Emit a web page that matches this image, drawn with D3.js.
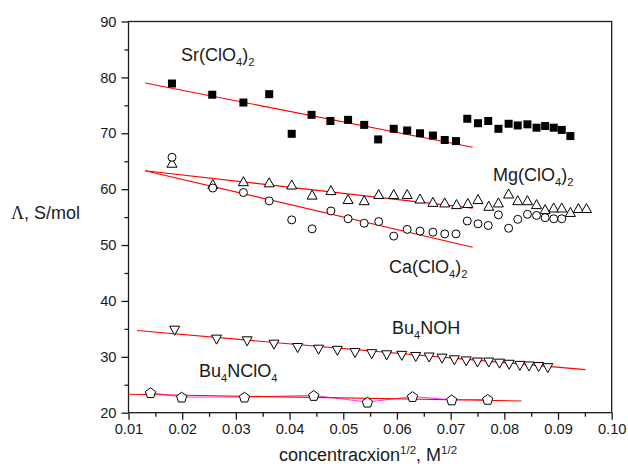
<!DOCTYPE html>
<html>
<head>
<meta charset="utf-8">
<script src="https://cdn.jsdelivr.net/npm/d3@7"></script>
<style>
  html, body { margin: 0; padding: 0; background: #fff; }
  svg { display: block; font-family: "Liberation Sans", Arial, sans-serif; }
</style>
</head>
<body>
<svg id="chart" width="628" height="475"></svg>
<script>
// Molar conductivity vs square root of concentration for five perchlorate/hydroxide salts

// Sr(ClO4)2 — filled squares
const srX = [0.0181, 0.0256, 0.0314, 0.0362, 0.0404, 0.0441, 0.0476, 0.0509, 0.0539, 0.0565,
             0.0594, 0.0619, 0.0643, 0.0667, 0.0689, 0.0710, 0.0731, 0.0751, 0.0770, 0.0789,
             0.0808, 0.0825, 0.0843, 0.0860, 0.0876, 0.0892, 0.0907, 0.0923];
const srY = [78.9, 76.9, 75.5, 77.0, 69.9, 73.3, 72.2, 72.4, 71.5, 68.9,
             70.8, 70.5, 70.0, 69.6, 68.8, 68.6, 72.6, 71.8, 72.2, 70.8,
             71.7, 71.4, 71.6, 71.0, 71.3, 71.0, 70.6, 69.5];

// Mg(ClO4)2 — open triangles
const mgX = [0.0181, 0.0257, 0.0314, 0.0362, 0.0404, 0.0442, 0.0477, 0.0509, 0.0539, 0.0566,
             0.0594, 0.0619, 0.0643, 0.0667, 0.0689, 0.0711, 0.0732, 0.0751, 0.0771, 0.0789,
             0.0808, 0.0825, 0.0843, 0.0860, 0.0876, 0.0892, 0.0907, 0.0923, 0.0938, 0.0953];
const mgY = [64.6, 60.8, 61.3, 61.1, 60.7, 58.9, 59.7, 58.1, 57.9, 59.0,
             59.0, 59.0, 58.2, 57.6, 57.5, 57.2, 57.4, 58.1, 56.9, 57.5,
             59.1, 57.9, 57.9, 57.2, 56.3, 56.6, 56.6, 55.8, 56.5, 56.5];

// Ca(ClO4)2 — open circles
const caX = [0.0181, 0.0257, 0.0314, 0.0362, 0.0404, 0.0442, 0.0477, 0.0509, 0.0539, 0.0566,
             0.0594, 0.0619, 0.0643, 0.0667, 0.0689, 0.0710, 0.0731, 0.0751, 0.0770, 0.0789,
             0.0808, 0.0825, 0.0843, 0.0860, 0.0876, 0.0892, 0.0907];
const caY = [65.7, 60.2, 59.4, 57.9, 54.5, 52.9, 56.1, 54.7, 53.9, 54.2,
             51.6, 52.8, 52.5, 52.3, 52.0, 52.0, 54.3, 53.8, 53.5, 55.4,
             53.0, 54.6, 55.5, 55.3, 54.9, 54.7, 54.7];

// Bu4NOH — open down-triangles
const ohX = [0.0186, 0.0264, 0.0321, 0.0371, 0.0415, 0.0454, 0.0489, 0.0522, 0.0553, 0.0581,
             0.0609, 0.0635, 0.0660, 0.0684, 0.0707, 0.0729, 0.0750, 0.0771, 0.0791, 0.0809,
             0.0829, 0.0846, 0.0864, 0.0881];
const ohY = [34.8, 33.2, 32.9, 32.3, 31.7, 31.4, 31.2, 30.8, 30.6, 30.4,
             30.3, 30.1, 30.0, 29.8, 29.5, 29.3, 29.1, 29.1, 28.9, 28.7,
             28.5, 28.4, 28.3, 28.1];

// Bu4NClO4 — open pentagons
const clX = [0.0141, 0.0199, 0.0316, 0.0445, 0.0545, 0.0629, 0.0702, 0.0769];
const clY = [23.6, 22.8, 22.8, 23.1, 21.9, 22.9, 22.3, 22.4];

// Linear fits: [x0, y0, x1, y1]
const srFit = [0.0131, 79.0, 0.0741, 67.5];
const mgFit = [0.0131, 63.3, 0.0741, 56.6];
const caFit = [0.0131, 63.3, 0.0741, 49.6];
const ohFit = [0.0116, 34.7, 0.0951, 27.7];
const clFit = [0.0100, 23.3, 0.0832, 22.1];

// Axis ticks
const xTicks = [0.01, 0.02, 0.03, 0.04, 0.05, 0.06, 0.07, 0.08, 0.09, 0.10];
const yTicks = [20, 30, 40, 50, 60, 70, 80, 90];
const xMinor = [0.015, 0.025, 0.035, 0.045, 0.055, 0.065, 0.075, 0.085, 0.095];
const yMinor = [25, 35, 45, 55, 65, 75, 85];

const svg = d3.select("#chart");
const L = 128.5, R = 611.7, T = 21.5, B = 412.7;

const x = d3.scaleLinear().domain([0.01, 0.10]).range([L, R]);
const y = d3.scaleLinear().domain([20, 90]).range([B, T]);

const ink = "#1a1a1a";

// frame
svg.append("rect")
  .attr("x", L).attr("y", T).attr("width", R - L).attr("height", B - T)
  .attr("fill", "none").attr("stroke", ink).attr("stroke-width", 1.3);

// x axis
const xAxis = svg.append("g").attr("transform", `translate(0,${B})`)
  .call(d3.axisBottom(x).tickValues(xTicks).tickSize(7).tickPadding(4)
        .tickFormat(d => d.toFixed(2)));
const xAxisMinor = svg.append("g").attr("transform", `translate(0,${B})`)
  .call(d3.axisBottom(x).tickValues(xMinor).tickSize(4).tickFormat(""));

// y axis
const yAxis = svg.append("g").attr("transform", `translate(${L},0)`)
  .call(d3.axisLeft(y).tickValues(yTicks).tickSize(7).tickPadding(5));
const yAxisMinor = svg.append("g").attr("transform", `translate(${L},0)`)
  .call(d3.axisLeft(y).tickValues(yMinor).tickSize(4).tickFormat(""));

[xAxis, xAxisMinor, yAxis, yAxisMinor].forEach(g => {
  g.select(".domain").remove();
  g.selectAll(".tick line").attr("stroke", ink).attr("stroke-width", 1.3);
  g.selectAll(".tick text").attr("fill", ink)
    .style("font-family", '"Liberation Sans", Arial, sans-serif')
    .style("font-size", "14.7px");
});

// connecting line through Bu4NClO4 points
svg.append("path")
  .datum(clX.map((v, i) => [v, clY[i]]))
  .attr("d", d3.line().x(d => x(d[0])).y(d => y(d[1])))
  .attr("fill", "none").attr("stroke", "#ff33ff").attr("stroke-width", 1);

// fit lines
[srFit, mgFit, caFit, ohFit, clFit].forEach(f => {
  svg.append("line")
    .attr("x1", x(f[0])).attr("y1", y(f[1]))
    .attr("x2", x(f[2])).attr("y2", y(f[3]))
    .attr("stroke", "#ff0000").attr("stroke-width", 1.1);
});

function pts(xs, ys) { return xs.map((v, i) => [v, ys[i]]); }

// markers
svg.append("g").selectAll("rect").data(pts(srX, srY)).join("rect")
  .attr("x", d => x(d[0]) - 4).attr("y", d => y(d[1]) - 4)
  .attr("width", 8).attr("height", 8).attr("fill", "#000");

const triUp = "M0,-5.2L5,3.8L-5,3.8Z";
const triDown = "M0,5.2L5,-3.8L-5,-3.8Z";

svg.append("g").selectAll("path").data(pts(mgX, mgY)).join("path")
  .attr("transform", d => `translate(${x(d[0])},${y(d[1])})`)
  .attr("d", triUp).attr("fill", "#fff").attr("stroke", "#000").attr("stroke-width", 1);

svg.append("g").selectAll("circle").data(pts(caX, caY)).join("circle")
  .attr("cx", d => x(d[0])).attr("cy", d => y(d[1])).attr("r", 4)
  .attr("fill", "#fff").attr("stroke", "#000").attr("stroke-width", 1);

svg.append("g").selectAll("path").data(pts(ohX, ohY)).join("path")
  .attr("transform", d => `translate(${x(d[0])},${y(d[1])})`)
  .attr("d", triDown).attr("fill", "#fff").attr("stroke", "#000").attr("stroke-width", 1);

const pent = d3.range(5).map(i => {
  const a = -Math.PI / 2 + i * 2 * Math.PI / 5;
  return [5.4 * Math.cos(a), 5.4 * Math.sin(a) + 0.6];
});
svg.append("g").selectAll("path").data(pts(clX, clY)).join("path")
  .attr("transform", d => `translate(${x(d[0])},${y(d[1])})`)
  .attr("d", "M" + pent.join("L") + "Z")
  .attr("fill", "#fff").attr("stroke", "#000").attr("stroke-width", 1);

// series labels with subscripts
function formula(px, py, parts, size) {
  const t = svg.append("text").attr("x", px).attr("y", py)
    .attr("fill", ink).style("font-size", size + "px");
  parts.forEach(p => {
    if (p.sub) {
      t.append("tspan").text(p.t).style("font-size", (size * 0.62) + "px")
        .attr("dy", size * 0.3);
    } else {
      t.append("tspan").text(p.t).attr("dy", p.back ? -size * 0.3 : 0);
    }
  });
  return t;
}
const lab = 18;
formula(181, 61, [{t: "Sr(ClO"}, {t: "4", sub: true}, {t: ")", back: true}, {t: "2", sub: true}], lab);
formula(493, 181, [{t: "Mg(ClO"}, {t: "4", sub: true}, {t: ")", back: true}, {t: "2", sub: true}], lab);
formula(389, 273, [{t: "Ca(ClO"}, {t: "4", sub: true}, {t: ")", back: true}, {t: "2", sub: true}], lab);
formula(392, 334, [{t: "Bu"}, {t: "4", sub: true}, {t: "NOH", back: true}], lab);
formula(199, 377, [{t: "Bu"}, {t: "4", sub: true}, {t: "NClO", back: true}, {t: "4", sub: true}], lab);

// axis titles
const xt = svg.append("text").attr("x", 279).attr("y", 461).attr("fill", ink)
  .style("font-size", "18px");
xt.append("tspan").text("concentracxion");
xt.append("tspan").text("1/2").style("font-size", "11.5px").attr("dy", -7.5);
xt.append("tspan").text(", M").attr("dy", 7.5);
xt.append("tspan").text("1/2").style("font-size", "11.5px").attr("dy", -7.5);

const yt = svg.append("text").attr("x", 11).attr("y", 219).attr("fill", ink)
  .style("font-size", "18px");
yt.append("tspan").text("Λ").style("font-family", '"Liberation Serif", "Times New Roman", serif');
yt.append("tspan").text(", S/mol");
</script>
</body>
</html>
